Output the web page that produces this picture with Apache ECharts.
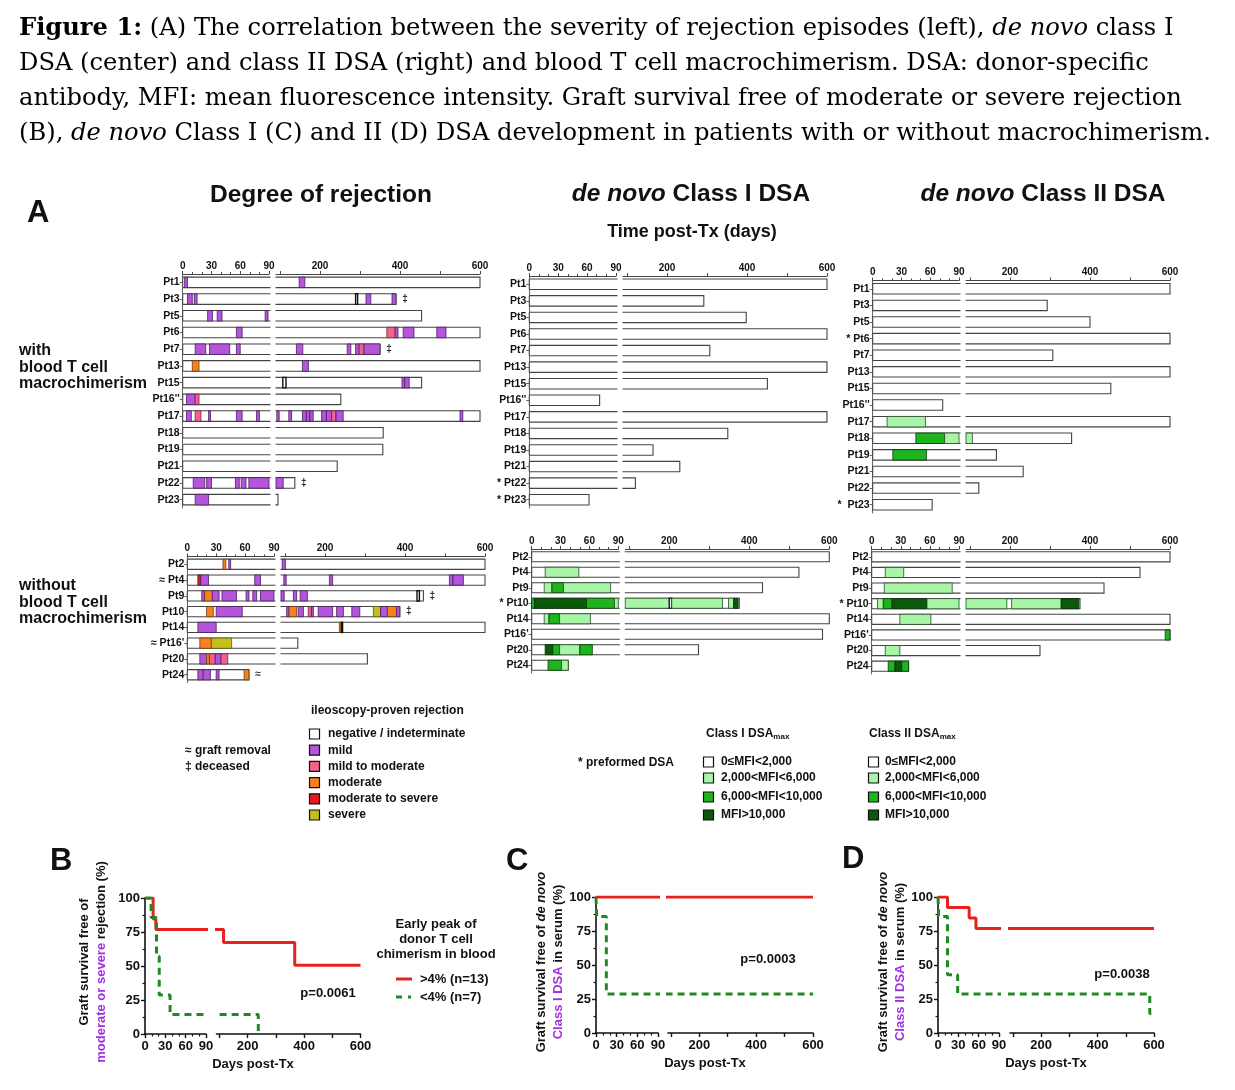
<!DOCTYPE html>
<html><head><meta charset="utf-8">
<script src="https://cdn.jsdelivr.net/npm/echarts@6/dist/echarts.min.js"></script>
<style>html,body{margin:0;padding:0;background:#fff}#c{width:1235px;height:1090px}</style>
</head><body><div id="c"></div>
<script>
// ---------------- DATA ----------------
// Panel A, rejection, with macrochimerism
const rejWithPts = ['Pt1','Pt3','Pt5','Pt6','Pt7','Pt13','Pt15',"Pt16''",'Pt17','Pt18','Pt19','Pt21','Pt22','Pt23'];
const rejWithEnd = [600, 390, 454, 600, 350, 600, 454, 252, 600, 358, 357, 243, 137, 95];
const rejWithMark = ['', '‡', '', '', '‡', '', '', '', '', '', '', '', '‡', ''];
// [row, startDay, endDay, grade] grade: 0 neg/indet, 1 mild, 2 mild-mod, 3 moderate, 4 mod-severe, 5 severe
const rejWithEp = [
 [0,2,5,1],[0,148,162,1],
 [1,5,10,1],[1,12,15,1],[1,289,294,0],[1,315,327,1],[1,380,390,1],
 [2,26,31,1],[2,36,41,1],[2,86,89,1],
 [3,56,62,1],[3,367,388,2],[3,388,395,1],[3,408,435,1],[3,492,515,1],
 [4,13,24,1],[4,28,49,1],[4,56,60,1],[4,141,157,1],[4,268,277,1],[4,289,298,1],[4,298,310,2],[4,310,350,1],
 [5,10,17,3],[5,156,171,1],
 [6,107,115,0],[6,405,412,1],[6,412,423,1],
 [7,4,13,1],[7,13,17,2],
 [8,4,9,1],[8,13,19,2],[8,27,29,1],[8,56,62,1],[8,77,80,1],[8,92,98,1],[8,122,129,1],[8,156,166,1],[8,166,175,1],[8,175,183,1],[8,204,216,1],[8,216,229,1],[8,229,240,2],[8,240,258,1],[8,550,557,1],
 [12,11,23,1],[12,25,30,1],[12,55,59,1],[12,61,66,1],[12,69,108,1],
 [13,13,27,1]
];
// Panel A, rejection, without macrochimerism
const rejWoPts = ['Pt2','≈ Pt4','Pt9','Pt10','Pt14',"≈ Pt16'",'Pt20','Pt24'];
const rejWoEnd = [600, 600, 446, 387, 600, 132, 306, 64];
const rejWoMark = ['', '', '‡', '‡', '', '', '', '≈'];
const rejWoEp = [
 [0,37,40,3],[0,43,45,1],[0,93,101,1],
 [1,11,14,4],[1,14,22,1],[1,70,76,1],[1,97,103,1],[1,211,219,1],[1,511,520,1],[1,520,546,1],
 [2,15,18,1],[2,18,26,3],[2,26,33,1],[2,36,51,1],[2,61,64,1],[2,68,72,1],[2,76,98,1],[2,121,129,1],[2,138,156,1],[2,430,436,0],
 [3,20,27,3],[3,30,57,1],[3,104,110,1],[3,110,129,3],[3,133,146,1],[3,158,166,2],[3,166,171,1],[3,183,219,1],[3,229,246,1],[3,267,287,1],[3,321,339,5],[3,339,356,1],[3,356,379,3],[3,379,387,1],
 [4,11,30,1],[4,236,241,3],[4,241,244,0],
 [5,13,25,3],[5,25,46,5],
 [6,13,20,1],[6,20,23,3],[6,23,29,2],[6,29,35,1],[6,35,42,2],
 [7,11,16,1],[7,17,24,1],[7,30,33,1],[7,59,64,3]
];
// Class I DSA, with
const dsa1WithPts = ['Pt1','Pt3','Pt5','Pt6','Pt7','Pt13','Pt15',"Pt16''",'Pt17','Pt18','Pt19','Pt21','* Pt22','* Pt23'];
const dsa1WithEnd = [600, 292, 398, 600, 307, 600, 451, 73, 600, 352, 165, 232, 121, 62];
const dsa1WithEp = []; // [row, start, end, level] level: 0 <2000, 1 2000-6000, 2 6000-10000, 3 >10000
// Class II DSA, with
const dsa2WithPts = ['Pt1','Pt3','Pt5','* Pt6','Pt7','Pt13','Pt15',"Pt16''",'Pt17','Pt18','Pt19','Pt21','Pt22','*  Pt23'];
const dsa2WithEnd = [600, 293, 400, 600, 307, 600, 452, 73, 600, 354, 166, 233, 122, 62];
const dsa2WithEp = [[8,15,55,1],[9,45,75,2],[9,75,106,1],[10,21,56,2]];
// Class I DSA, without
const dsa1WoPts = ['Pt2','Pt4','Pt9','* Pt10','Pt14',"Pt16'",'Pt20','Pt24'];
const dsa1WoEnd = [600, 524, 433, 375, 600, 583, 273, 38];
const dsa1WoEp = [
 [1,14,49,1],
 [2,13,21,1],[2,21,33,2],[2,33,82,1],
 [3,0,3,2],[3,3,57,3],[3,57,86,2],[3,86,200,1],[3,200,206,0],[3,206,333,1],[3,348,361,1],[3,361,372,3],
 [4,13,18,1],[4,18,29,2],[4,29,61,1],
 [6,14,22,3],[6,22,29,2],[6,29,50,1],[6,50,63,2],
 [7,17,31,2],[7,31,38,1]
];
// Class II DSA, without
const dsa2WoPts = ['Pt2','Pt4','Pt9','* Pt10','Pt14',"Pt16'",'Pt20','Pt24'];
const dsa2WoEnd = [600, 525, 435, 375, 600, 600, 275, 38];
const dsa2WoEp = [
 [1,14,33,1],
 [2,13,83,1],
 [3,6,12,1],[3,12,21,2],[3,21,57,3],[3,57,192,1],[3,204,328,1],[3,328,372,3],
 [4,29,61,1],
 [5,588,600,2],
 [6,14,29,1],
 [7,17,24,2],[7,24,31,3],[7,31,38,2]
];
// Kaplan-Meier curves (day of step, survival % after step)
const kmBRedDays = [0, 12, 16, 115, 367, 600];
const kmBRedSurv = [100, 84.6, 76.9, 67.3, 50.5, 50.5];
const kmBGreenDays = [0, 9, 17, 21, 37, 238];
const kmBGreenSurv = [100, 85.7, 57.1, 28.6, 14.3, 0];
const kmCRedDays = [0, 600];
const kmCRedSurv = [100, 100];
const kmCGreenDays = [0, 1, 15, 600];
const kmCGreenSurv = [100, 85.7, 28.6, 28.6];
const kmDRedDays = [0, 14, 46, 56, 600];
const kmDRedSurv = [100, 92.3, 84.6, 76.9, 76.9];
const kmDGreenDays = [0, 1, 14, 29, 585, 600];
const kmDGreenSurv = [100, 85.7, 42.9, 28.6, 14.3, 14.3];
const leftTicks = [0, 30, 60, 90];
const rightLabels = [200, 400, 600];
const rightTicks = [100, 200, 300, 400, 500, 600];

// ---------------- STYLE ----------------
const FF = "'Liberation Sans', Arial, sans-serif";
const SERIF = "'DejaVu Serif', 'Liberation Serif', serif";
const REJ_FILL = ['#ffffff', '#B455DC', '#F2638C', '#F5821F', '#E41A1C', '#C5BF1E'];
const REJ_STROKE = ['#111111', '#4a2060', '#6a2a3a', '#6a3a10', '#5a1010', '#5a5a10'];
const DSA_FILL = ['#ffffff', '#A8F5A8', '#1EB41E', '#0B5A0B'];
const DSA_STROKE = ['#222222', '#2a4a2a', '#0a3a0a', '#062a06'];
const PURPLE = '#A030E0';
const KM_RED = '#E8201E';
const KM_GREEN = '#1F8A1F';

// ---------------- LAYOUT ----------------
// panel A: [leftX, leftW, rightX, rightW, top, height]
const panelBoxes = [
  [182.7, 86.3, 276, 204, 274, 234],
  [529.3, 86.7, 623, 204, 276, 232],
  [872.7, 86.3, 966, 204, 280.5, 232.5],
  [187.3, 86.7, 281, 204, 556.4, 126.2],
  [531.7, 86.6, 625.3, 204, 549, 124],
  [871.7, 87.3, 966, 204, 549, 125]
];
const kmBoxes = [
  [145, 61, 216.5, 144, 898, 136],
  [596, 62, 668, 145, 897, 136],
  [938, 61, 1010, 144, 897, 136]
];

const grid = [], xAxis = [], yAxis = [], series = [];
const axCol = '#444';

function makeBar(side, marks, bh) {
  return function (params, api) {
    const i = api.value(0), end = api.value(1);
    const cs = params.coordSys;
    const xa = cs.x, xb = cs.x + cs.width;
    const pc = api.coord([end, i]);
    const yc = pc[1];
    const h = api.size([0, 1])[1] * bh;
    const y0 = yc - h / 2, y1 = yc + h / 2;
    let xe, closedEnd;
    if (side === 0) {
      if (end > 90) { xe = xb + 1.5; closedEnd = false; } else { xe = pc[0]; closedEnd = true; }
    } else {
      if (end <= 90) return null;
      xe = pc[0]; closedEnd = true;
    }
    const x0 = side === 0 ? xa : xa - 0.5;
    const st = { stroke: '#444', lineWidth: 1.1, fill: 'none' };
    const ch = [{ type: 'rect', shape: { x: x0, y: y0, width: xe - x0, height: h }, style: { fill: '#fff' } }];
    if (closedEnd) {
      ch.push({ type: 'polyline', shape: { points: [[x0, y0], [xe, y0], [xe, y1], [x0, y1]] }, style: st });
    } else {
      ch.push({ type: 'line', shape: { x1: x0, y1: y0, x2: xe, y2: y0 }, style: st });
      ch.push({ type: 'line', shape: { x1: x0, y1: y1, x2: xe, y2: y1 }, style: st });
    }
    if (side === 0) ch.push({ type: 'line', shape: { x1: x0, y1: y0, x2: x0, y2: y1 }, style: st });
    const m = marks ? marks[params.dataIndex] : '';
    if (m && closedEnd) {
      ch.push({ type: 'text', x: xe + 9, y: yc, style: { text: m, fontSize: 10, fontFamily: FF, fontWeight: 'bold', fill: '#222', align: 'center', verticalAlign: 'middle', textAlign: 'center', textVerticalAlign: 'middle' } });
    }
    return { type: 'group', children: ch };
  };
}
function makeEp(fills, strokes, bh) {
  return function (params, api) {
    const row = api.value(0), s = api.value(1), e = api.value(2), g = api.value(3);
    const p0 = api.coord([s, row]), p1 = api.coord([e, row]);
    const h = api.size([0, 1])[1] * bh;
    const cs = params.coordSys;
    const r = echarts.graphic.clipRectByRect(
      { x: p0[0], y: p0[1] - h / 2, width: p1[0] - p0[0], height: h },
      { x: cs.x, y: cs.y, width: cs.width + 0.01, height: cs.height });
    if (!r) return null;
    return { type: 'rect', shape: r, style: { fill: fills[g], stroke: strokes[g], lineWidth: g === 0 ? 1.4 : 0.8 } };
  };
}

function addPanel(pi, names, ends, marks, eps, fills, strokes) {
  const b = panelBoxes[pi];
  const bh = pi < 3 ? 0.63 : 0.65;
  const rows = ends.map((e, i) => [i, e]);
  [0, 1].forEach(side => {
    const gi = grid.length;
    grid.push({ left: side === 0 ? b[0] : b[2], width: side === 0 ? b[1] : b[3], top: b[4], height: b[5], outerBoundsMode: 'none', containLabel: false });
    const xa = {
      gridIndex: gi, type: 'value', position: 'top',
      min: side === 0 ? 0 : 90, max: side === 0 ? 90 : 600,
      axisLine: { show: true, lineStyle: { color: axCol, width: 1 } },
      axisTick: { show: true, length: 3, lineStyle: { color: axCol } },
      axisLabel: { show: true, fontSize: 10, fontWeight: 'bold', fontFamily: FF, color: '#111', margin: 3 },
      splitLine: { show: false }
    };
    if (side === 0) {
      xa.interval = 30;
      xa.minorTick = { show: true, splitNumber: 3, length: 2, lineStyle: { color: axCol } };
    } else {
      xa.axisLabel.customValues = rightLabels;
      xa.axisTick.customValues = rightTicks;
    }
    xAxis.push(xa);
    yAxis.push({
      gridIndex: gi, type: 'category', inverse: true, data: names, show: side === 0,
      axisLine: { show: side === 0, lineStyle: { color: '#666' } },
      axisTick: { show: true, alignWithLabel: true, length: 3, lineStyle: { color: '#666' } },
      axisLabel: { show: true, fontSize: 10.5, fontWeight: 'bold', fontFamily: FF, color: '#111', margin: 3 },
      splitLine: { show: false }
    });
    series.push({ type: 'custom', xAxisIndex: gi, yAxisIndex: gi, silent: true, data: rows, encode: { x: 1, y: 0 }, renderItem: makeBar(side, marks, bh) });
    series.push({ type: 'custom', xAxisIndex: gi, yAxisIndex: gi, silent: true, data: eps, encode: { x: [1, 2], y: 0 }, renderItem: makeEp(fills, strokes, bh) });
  });
}

addPanel(0, rejWithPts, rejWithEnd, rejWithMark, rejWithEp, REJ_FILL, REJ_STROKE);
addPanel(1, dsa1WithPts, dsa1WithEnd, null, dsa1WithEp, DSA_FILL, DSA_STROKE);
addPanel(2, dsa2WithPts, dsa2WithEnd, null, dsa2WithEp, DSA_FILL, DSA_STROKE);
addPanel(3, rejWoPts, rejWoEnd, rejWoMark, rejWoEp, REJ_FILL, REJ_STROKE);
addPanel(4, dsa1WoPts, dsa1WoEnd, null, dsa1WoEp, DSA_FILL, DSA_STROKE);
addPanel(5, dsa2WoPts, dsa2WoEnd, null, dsa2WoEp, DSA_FILL, DSA_STROKE);

function pairs(d, s) { return d.map((v, i) => [v, s[i]]); }
function addKM(ki, curves) {
  const b = kmBoxes[ki];
  [0, 1].forEach(side => {
    const gi = grid.length;
    grid.push({ left: side === 0 ? b[0] : b[2], width: side === 0 ? b[1] : b[3], top: b[4], height: b[5], outerBoundsMode: 'none', containLabel: false });
    const xa = {
      gridIndex: gi, type: 'value', position: 'bottom',
      min: side === 0 ? 0 : 90, max: side === 0 ? 90 : 600,
      axisLine: { show: true, lineStyle: { color: '#111', width: 1.6 } },
      axisTick: { show: true, length: 4, lineStyle: { color: '#111', width: 1.4 } },
      axisLabel: { show: true, fontSize: 13, fontWeight: 'bold', fontFamily: FF, color: '#111', margin: 6 },
      splitLine: { show: false }
    };
    if (side === 0) {
      xa.interval = 30;
      xa.minorTick = { show: true, splitNumber: 3, length: 2.5, lineStyle: { color: '#111', width: 1.2 } };
    } else {
      xa.axisLabel.customValues = rightLabels;
      xa.axisTick.customValues = rightTicks;
    }
    xAxis.push(xa);
    yAxis.push({
      gridIndex: gi, type: 'value', min: 0, max: 100, interval: 25, show: side === 0,
      axisLine: { show: side === 0, lineStyle: { color: '#111', width: 1.6 } },
      axisTick: { show: true, length: 4, lineStyle: { color: '#111', width: 1.4 } },
      minorTick: { show: true, splitNumber: 2, length: 2.5, lineStyle: { color: '#111', width: 1.2 } },
      axisLabel: { show: true, fontSize: 13, fontWeight: 'bold', fontFamily: FF, color: '#111', margin: 5 },
      splitLine: { show: false }
    });
    curves.forEach(c => {
      series.push({
        type: 'line', xAxisIndex: gi, yAxisIndex: gi, data: c.data, step: 'end', symbol: 'none', silent: true,
        clip: true, z: c.z, animation: false,
        lineStyle: { color: c.color, width: 3, type: c.dash ? [7, 5] : 'solid' }
      });
    });
  });
}
addKM(0, [
  { data: pairs(kmBRedDays, kmBRedSurv), color: KM_RED, dash: false, z: 2 },
  { data: pairs(kmBGreenDays, kmBGreenSurv), color: KM_GREEN, dash: true, z: 3 }
]);
addKM(1, [
  { data: pairs(kmCRedDays, kmCRedSurv), color: KM_RED, dash: false, z: 2 },
  { data: pairs(kmCGreenDays, kmCGreenSurv), color: KM_GREEN, dash: true, z: 3 }
]);
addKM(2, [
  { data: pairs(kmDRedDays, kmDRedSurv), color: KM_RED, dash: false, z: 2 },
  { data: pairs(kmDGreenDays, kmDGreenSurv), color: KM_GREEN, dash: true, z: 3 }
]);

// ---------------- TEXT / LEGENDS ----------------
function T(x, y, text, size, o) {
  const st = Object.assign({ text: text, fontSize: size, fontFamily: FF, fontWeight: 'bold', fill: '#111',
    align: 'left', verticalAlign: 'middle', textAlign: 'left', textVerticalAlign: 'middle' }, o || {});
  if (st.align !== 'left') st.textAlign = st.align;
  return { type: 'text', x: x, y: y, silent: true, style: st };
}
function TR(x, y, text, size, rich, rot) {
  const e = T(x, y, text, size, { align: 'center', rich: rich });
  if (rot) e.rotation = Math.PI / 2;
  return e;
}
const g = [];
const TS = 24.2;
const titleRich = {
  b: { fontWeight: 'bold', fontFamily: SERIF, fontSize: TS, fill: '#000' },
  i: { fontStyle: 'italic', fontFamily: SERIF, fontSize: TS, fill: '#000' }
};
const titleLines = [
  '{b|Figure 1:} (A) The correlation between the severity of rejection episodes (left), {i|de novo} class I',
  'DSA (center) and class II DSA (right) and blood T cell macrochimerism. DSA: donor-specific',
  'antibody, MFI: mean fluorescence intensity. Graft survival free of moderate or severe rejection',
  '(B), {i|de novo} Class I (C) and II (D) DSA development in patients with or without macrochimerism.'
];
titleLines.forEach((t, k) => g.push(T(19, 29 + 35 * k, t, TS, { fontFamily: SERIF, fontWeight: 'normal', fill: '#000', rich: titleRich })));

g.push(T(27, 213, 'A', 31));
const hRich = { i: { fontStyle: 'italic', fontWeight: 'bold', fontFamily: FF, fontSize: 24.5 } };
g.push(T(321, 195, 'Degree of rejection', 24.5, { align: 'center' }));
g.push(T(691, 194, '{i|de novo} Class I DSA', 24.5, { align: 'center', rich: hRich }));
g.push(T(1043, 194, '{i|de novo} Class II DSA', 24.5, { align: 'center', rich: hRich }));
g.push(T(692, 232, 'Time post-Tx (days)', 18, { align: 'center' }));

['with', 'blood T cell', 'macrochimerism'].forEach((t, k) => g.push(T(19, 351 + 16.5 * k, t, 16)));
['without', 'blood T cell', 'macrochimerism'].forEach((t, k) => g.push(T(19, 586 + 16.5 * k, t, 16)));

// rejection legend
g.push(T(311, 711, 'ileoscopy-proven rejection', 12));
const rejNames = ['negative / indeterminate', 'mild', 'mild to moderate', 'moderate', 'moderate to severe', 'severe'];
rejNames.forEach((t, k) => {
  const y = 734 + 16.2 * k;
  g.push({ type: 'rect', silent: true, shape: { x: 309.5, y: y - 5, width: 10, height: 10 }, style: { fill: REJ_FILL[k], stroke: '#111', lineWidth: 1.2 } });
  g.push(T(328, y, t, 12));
});
g.push(T(185, 751, '≈ graft removal', 12));
g.push(T(185, 767, '‡ deceased', 12));
g.push(T(578, 763, '* preformed DSA', 12));
const subRich = { s: { fontSize: 8, fontWeight: 'bold', fontFamily: FF, verticalAlign: 'bottom', padding: [6, 0, 0, 0] } };
g.push(T(706, 734, 'Class I DSA{s|max}', 12, { rich: subRich }));
g.push(T(869, 734, 'Class II DSA{s|max}', 12, { rich: subRich }));
const dsaNames = ['0≤MFI<2,000', '2,000<MFI<6,000', '6,000<MFI<10,000', 'MFI>10,000'];
const dsaY = [762, 778, 797, 815];
dsaNames.forEach((t, k) => {
  [[703.5, 721], [868.5, 885]].forEach(p => {
    g.push({ type: 'rect', silent: true, shape: { x: p[0], y: dsaY[k] - 5, width: 10, height: 10 }, style: { fill: DSA_FILL[k], stroke: '#111', lineWidth: 1.2 } });
    g.push(T(p[1], dsaY[k], t, 12));
  });
});

// KM panels text
g.push(T(50, 861, 'B', 31));
g.push(T(506, 861, 'C', 31));
g.push(T(842, 859, 'D', 31));
const pRich = { p: { fill: PURPLE, fontWeight: 'bold', fontFamily: FF, fontSize: 13 }, i: { fontStyle: 'italic', fontWeight: 'bold', fontFamily: FF, fontSize: 13 } };
g.push(TR(84, 962, 'Graft survival free of', 13, pRich, true));
g.push(TR(101, 962, '{p|moderate or severe} rejection (%)', 13, pRich, true));
g.push(TR(541, 962, 'Graft survival free of {i|de novo}', 13, pRich, true));
g.push(TR(558, 962, '{p|Class I DSA} in serum (%)', 13, pRich, true));
g.push(TR(883, 962, 'Graft survival free of {i|de novo}', 13, pRich, true));
g.push(TR(900, 962, '{p|Class II DSA} in serum (%)', 13, pRich, true));
g.push(T(253, 1064, 'Days post-Tx', 13, { align: 'center' }));
g.push(T(705, 1063, 'Days post-Tx', 13, { align: 'center' }));
g.push(T(1046, 1063, 'Days post-Tx', 13, { align: 'center' }));
g.push(T(328, 993, 'p=0.0061', 13, { align: 'center' }));
g.push(T(768, 959, 'p=0.0003', 13, { align: 'center' }));
g.push(T(1122, 974, 'p=0.0038', 13, { align: 'center' }));
g.push(T(436, 924, 'Early peak of', 13, { align: 'center' }));
g.push(T(436, 939, 'donor T cell', 13, { align: 'center' }));
g.push(T(436, 954, 'chimerism in blood', 13, { align: 'center' }));
g.push({ type: 'line', silent: true, shape: { x1: 396, y1: 979, x2: 412, y2: 979 }, style: { stroke: KM_RED, lineWidth: 3 } });
g.push({ type: 'line', silent: true, shape: { x1: 396, y1: 997, x2: 402, y2: 997 }, style: { stroke: KM_GREEN, lineWidth: 3 } });
g.push({ type: 'line', silent: true, shape: { x1: 408, y1: 997, x2: 411, y2: 997 }, style: { stroke: KM_GREEN, lineWidth: 3 } });
g.push(T(420, 979, '>4% (n=13)', 13));
g.push(T(420, 997, '<4% (n=7)', 13));

const chart = echarts.init(document.getElementById('c'), null, { renderer: 'canvas' });
chart.setOption({
  backgroundColor: '#fff',
  animation: false,
  grid: grid, xAxis: xAxis, yAxis: yAxis, series: series,
  graphic: { elements: g }
});
</script></body></html>
